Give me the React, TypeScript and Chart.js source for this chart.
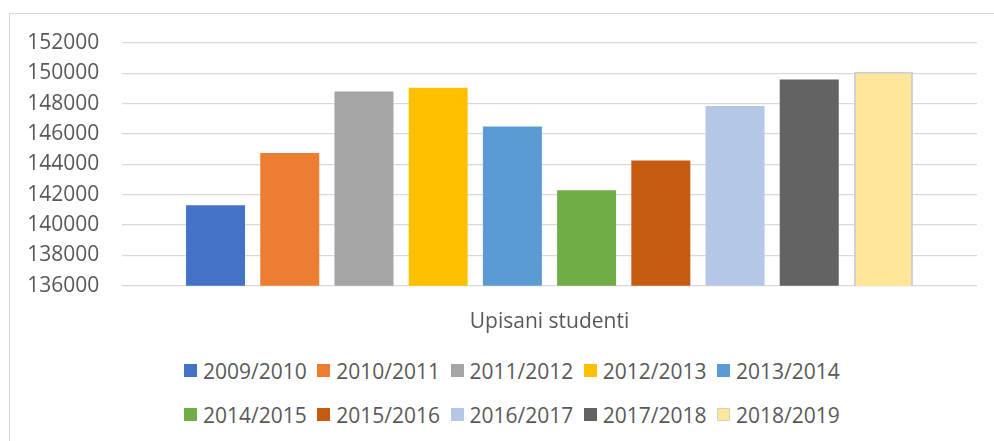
import React, { useEffect, useRef } from 'react';
import { Chart, registerables } from 'chart.js';

Chart.register(...registerables);

const categories = ['Upisani studenti'];
const seasons = [
  '2009/2010', '2010/2011', '2011/2012', '2012/2013', '2013/2014',
  '2014/2015', '2015/2016', '2016/2017', '2017/2018', '2018/2019',
];
const enrolled = [141300, 144750, 148800, 149050, 146500, 142300, 144250, 147850, 149600, 150100];
const barColors = [
  '#4472C4', '#ED7D31', '#A5A5A5', '#FFC000', '#5B9BD5',
  '#70AD47', '#C55A11', '#B4C7E7', '#636363', '#FFE699',
];
const yMin = 136000;
const yMax = 152000;
const yStep = 2000;

const FONT = "'Open Sans', 'Liberation Sans', sans-serif";
const TEXT = '#595959';
const GRID = '#d9d9d9';

export default function App() {
  const ref = useRef<HTMLCanvasElement | null>(null);

  useEffect(() => {
    if (!ref.current) return;
    const chart = new Chart(ref.current, {
      type: 'bar',
      data: {
        labels: categories,
        datasets: seasons.map((s, i) => ({
          label: s,
          data: [enrolled[i]],
          backgroundColor: barColors[i],
          borderColor: i === 9 ? '#d0d0d0' : barColors[i],
          borderWidth: i === 9 ? 2 : 0,
          categoryPercentage: 0.868,
          barPercentage: 0.795,
        })),
      },
      options: {
        responsive: false,
        maintainAspectRatio: false,
        animation: false,
        layout: { padding: { left: 0, right: 17, top: 30, bottom: 0 } },
        plugins: {
          legend: { display: false },
          tooltip: { enabled: false },
        },
        scales: {
          x: {
            grid: { display: false },
            border: { display: false },
            ticks: { color: TEXT, font: { family: FONT, size: 21 }, padding: 16 },
            afterFit: (s: any) => { s.height = 57.3; },
          },
          y: {
            min: yMin,
            max: yMax,
            ticks: {
              stepSize: yStep,
              color: TEXT,
              font: { family: FONT, size: 21 },
              padding: 22.7,
              callback: (v: any) => String(v),
            },
            grid: { color: GRID, drawTicks: false, lineWidth: 1.3 },
            border: { display: false },
            afterFit: (s: any) => {
              s.width = 113;
              s.paddingTop = 0;
              s.paddingBottom = 0;
            },
          },
        },
      },
    });
    return () => chart.destroy();
  }, []);

  const rows = [seasons.slice(0, 5), seasons.slice(5)];

  return (
    <div style={{ position: 'fixed', inset: 0, overflow: 'hidden', background: '#fff' }}>
      <div
        style={{
          position: 'absolute', left: 9, top: 13, width: 1100, height: 600,
          border: `1.5px solid ${GRID}`, boxSizing: 'border-box',
        }}
      />
      <canvas
        ref={ref}
        width={985}
        height={330}
        style={{ position: 'absolute', left: 9, top: 13, width: 985, height: 330 }}
      />
      {rows.map((row, r) => (
        <div
          key={r}
          style={{
            position: 'absolute', left: 184, top: 357 + r * 44, height: 27,
            display: 'flex', alignItems: 'center', whiteSpace: 'nowrap',
            fontFamily: FONT, fontSize: 21, color: TEXT,
          }}
        >
          {row.map((s) => {
            const i = seasons.indexOf(s);
            return (
              <span key={s} style={{ display: 'inline-flex', alignItems: 'center', marginRight: 10.5 }}>
                <span
                  style={{
                    display: 'inline-block', width: 13, height: 13, boxSizing: 'border-box',
                    background: barColors[i],
                    border: i === 9 ? '1.5px solid #d0d0d0' : 'none',
                    marginRight: 6,
                  }}
                />
                <span>{s}</span>
              </span>
            );
          })}
        </div>
      ))}
    </div>
  );
}
